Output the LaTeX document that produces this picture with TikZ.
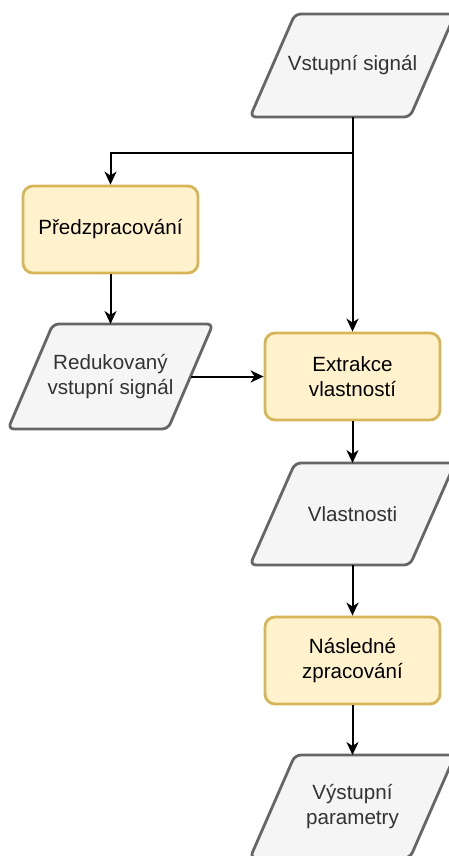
\documentclass[tikz,border=0pt]{standalone}
\usepackage{fontspec}
\setmainfont{Liberation Sans}
\usetikzlibrary{arrows.meta,backgrounds}
\definecolor{boxfill}{HTML}{FFF2CC}
\definecolor{boxline}{HTML}{D6B656}
\definecolor{parfill}{HTML}{F5F5F5}
\definecolor{parline}{HTML}{666666}
\definecolor{partext}{HTML}{333333}
\begin{document}
\begin{tikzpicture}[x=1pt,y=-1pt,
  font=\fontsize{20.6}{24.5}\selectfont,
  procbox/.style={draw=boxline, fill=boxfill, line width=2.8pt, rounded corners=10pt,
    minimum width=175pt, minimum height=87pt, align=center, text=black, inner sep=0pt},
  datanode/.style={minimum width=205pt, minimum height=103pt, align=center,
    text=partext, inner sep=0pt, outer sep=0pt},
  paraline/.style={draw=parline, fill=parfill, line width=2.8pt, rounded corners=6pt, line join=round},
  conn/.style={line width=2pt, -{Stealth[length=13pt,width=12pt,inset=4pt]}}]
\useasboundingbox (0,0) rectangle (449,856);
\clip (0,0) rectangle (449,856);

\node[datanode] (in) at (352.5,65.5) {Vstupní signál};
\node[procbox] (pre) at (110.5,229.5) {Předzpracování};
\node[datanode, minimum height=105pt] (red) at (110.5,376.5) {Redukovaný\\vstupní signál};
\node[procbox] (ext) at (352.5,376.5) {Extrakce\\vlastností};
\node[datanode, minimum height=102pt] (vl) at (352.5,514) {Vlastnosti};
\node[procbox] (nas) at (352.5,660.5) {Následné\\zpracování};
\node[datanode] (out) at (352.5,806.5) {Výstupní\\parametry};

\begin{scope}[on background layer]
  \foreach \n in {in,red,vl,out}{
    \draw[paraline] ([xshift=-57.5pt]\n.north) -- (\n.north east)
      -- ([xshift=57.5pt]\n.south) -- (\n.south west) -- cycle;
  }
\end{scope}

\coordinate (split) at ([yshift=-36pt]in.south);
\draw[conn] (in.south) -- (ext.north);
\draw[conn] (split) -| (pre.north);
\draw[conn] (pre.south) -- (red.north);
\draw[conn] ([xshift=-22.5pt]red.east) -- (ext.west);
\draw[conn] (ext.south) -- (vl.north);
\draw[conn] (vl.south) -- (nas.north);
\draw[conn] (nas.south) -- (out.north);
\end{tikzpicture}
\end{document}
